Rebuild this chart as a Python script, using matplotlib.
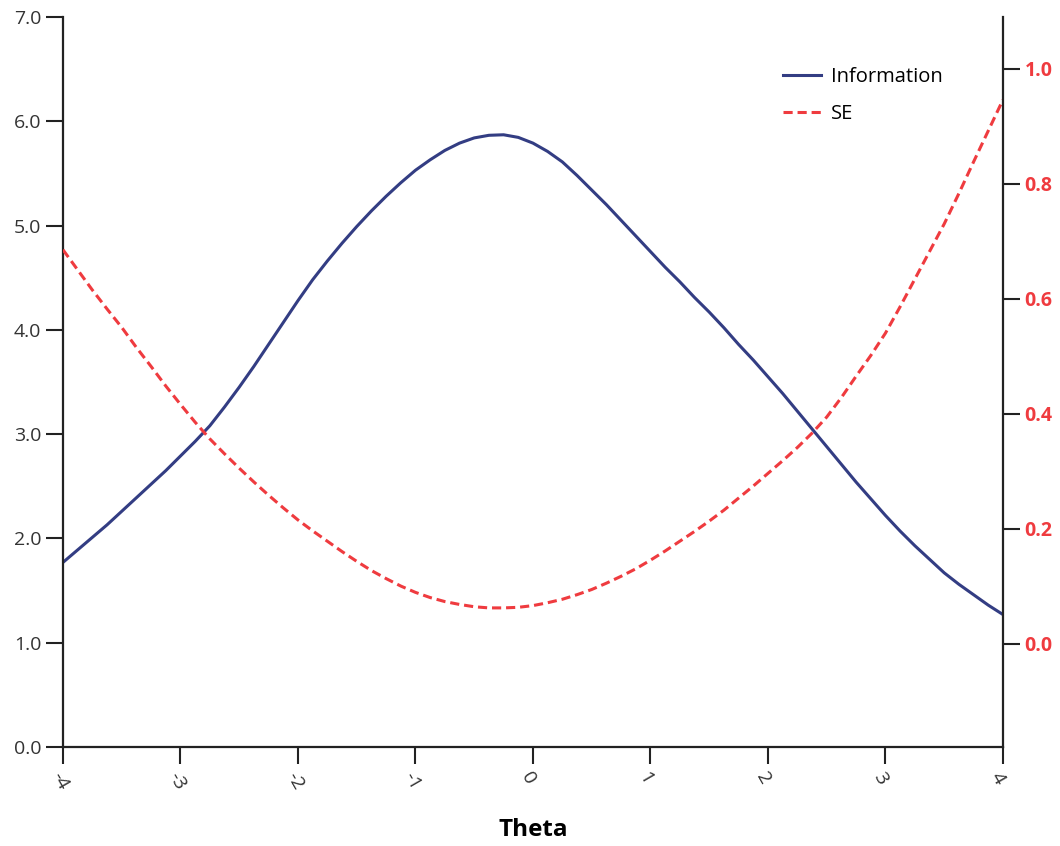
import numpy as np
import matplotlib
matplotlib.use('Agg')
import matplotlib.pyplot as plt
import matplotlib.ticker as tck

plt.rcParams.update({'font.family': ['Open Sans', 'DejaVu Sans'], 'font.size': 14})

# data (theta step 0.125)
theta = [-4.0, -3.875, -3.75, -3.625, -3.5, -3.375, -3.25, -3.125, -3.0, -2.875,
         -2.75, -2.625, -2.5, -2.375, -2.25, -2.125, -2.0, -1.875, -1.75, -1.625,
         -1.5, -1.375, -1.25, -1.125, -1.0, -0.875, -0.75, -0.625, -0.5, -0.375,
         -0.25, -0.125, 0.0, 0.125, 0.25, 0.375, 0.5, 0.625, 0.75, 0.875,
         1.0, 1.125, 1.25, 1.375, 1.5, 1.625, 1.75, 1.875, 2.0, 2.125,
         2.25, 2.375, 2.5, 2.625, 2.75, 2.875, 3.0, 3.125, 3.25, 3.375,
         3.5, 3.625, 3.75, 3.875, 4.0]
information = [1.77, 1.89, 2.01, 2.13, 2.26, 2.39, 2.52, 2.65, 2.79, 2.93,
               3.08, 3.26, 3.45, 3.65, 3.86, 4.07, 4.28, 4.48, 4.66, 4.83,
               4.99, 5.14, 5.28, 5.41, 5.53, 5.63, 5.72, 5.79, 5.84, 5.865,
               5.87, 5.845, 5.79, 5.71, 5.61, 5.48, 5.34, 5.20, 5.05, 4.90,
               4.75, 4.60, 4.46, 4.31, 4.17, 4.02, 3.86, 3.71, 3.55, 3.39,
               3.22, 3.05, 2.88, 2.71, 2.54, 2.38, 2.22, 2.07, 1.93, 1.80,
               1.67, 1.56, 1.46, 1.36, 1.27]
se = [0.685, 0.650, 0.615, 0.582, 0.550, 0.515, 0.482, 0.448, 0.416, 0.385,
      0.356, 0.330, 0.305, 0.281, 0.258, 0.236, 0.215, 0.196, 0.178, 0.160,
      0.143, 0.127, 0.113, 0.100, 0.089, 0.080, 0.073, 0.068, 0.064, 0.062,
      0.062, 0.063, 0.066, 0.071, 0.077, 0.085, 0.094, 0.105, 0.117, 0.130,
      0.145, 0.161, 0.178, 0.195, 0.213, 0.232, 0.253, 0.274, 0.296, 0.318,
      0.341, 0.366, 0.394, 0.428, 0.465, 0.501, 0.540, 0.586, 0.634, 0.682,
      0.730, 0.783, 0.838, 0.892, 0.946]
x_ticks = [-4, -3, -2, -1, 0, 1, 2, 3, 4]
left_ticks = [0, 1, 2, 3, 4, 5, 6, 7]
right_ticks = [0.0, 0.2, 0.4, 0.6, 0.8, 1.0]

navy = '#333d83'
red = '#ef3b3f'

fig = plt.figure(figsize=(10.6, 8.46), dpi=100)
ax = fig.add_axes([0.0594, 0.117, 0.8868, 0.863])
ax2 = ax.twinx()

l1, = ax.plot(theta, information, color=navy, linewidth=2.2, label='Information')
l2, = ax2.plot(theta, se, color=red, linewidth=2.2, linestyle=(0, (3, 1.6)), label='SE')

ax.set_xlim(-4, 4)
ax.set_ylim(0, 7)
ax2.set_ylim(-0.18, 1.09)

ax.set_xticks(x_ticks)
ax.set_xticklabels([str(t) for t in x_ticks], rotation=-60, ha='left', va='top',
                   rotation_mode='anchor')
ax.set_yticks(left_ticks)
ax.yaxis.set_major_formatter(tck.FormatStrFormatter('%.1f'))
ax2.set_yticks(right_ticks)
ax2.yaxis.set_major_formatter(tck.FormatStrFormatter('%.1f'))

for a in (ax, ax2):
    a.spines['top'].set_visible(False)
    for s in a.spines.values():
        s.set_linewidth(1.6)
        s.set_color('#222222')
ax.spines['right'].set_visible(False)
ax2.spines['left'].set_visible(False)
ax2.spines['bottom'].set_visible(False)

ax.tick_params(axis='both', direction='out', length=12, width=1.5, color='#222222',
               labelcolor='#333333', labelsize=14)
ax.tick_params(axis='x', pad=4)
ax2.tick_params(axis='y', direction='out', length=12, width=1.5, color='#222222',
                labelcolor=red, labelsize=14)
for lbl in ax2.get_yticklabels():
    lbl.set_fontweight('bold')

ax.set_xlabel('Theta', fontsize=17.5, fontweight='bold', labelpad=18)

ax.legend(handles=[l1, l2], loc='upper left', bbox_to_anchor=(0.757, 0.942), frameon=False,
          fontsize=14.5, handlelength=1.9, handletextpad=0.5, labelspacing=0.85,
          borderaxespad=0)

fig.savefig('out.png', dpi=100)
